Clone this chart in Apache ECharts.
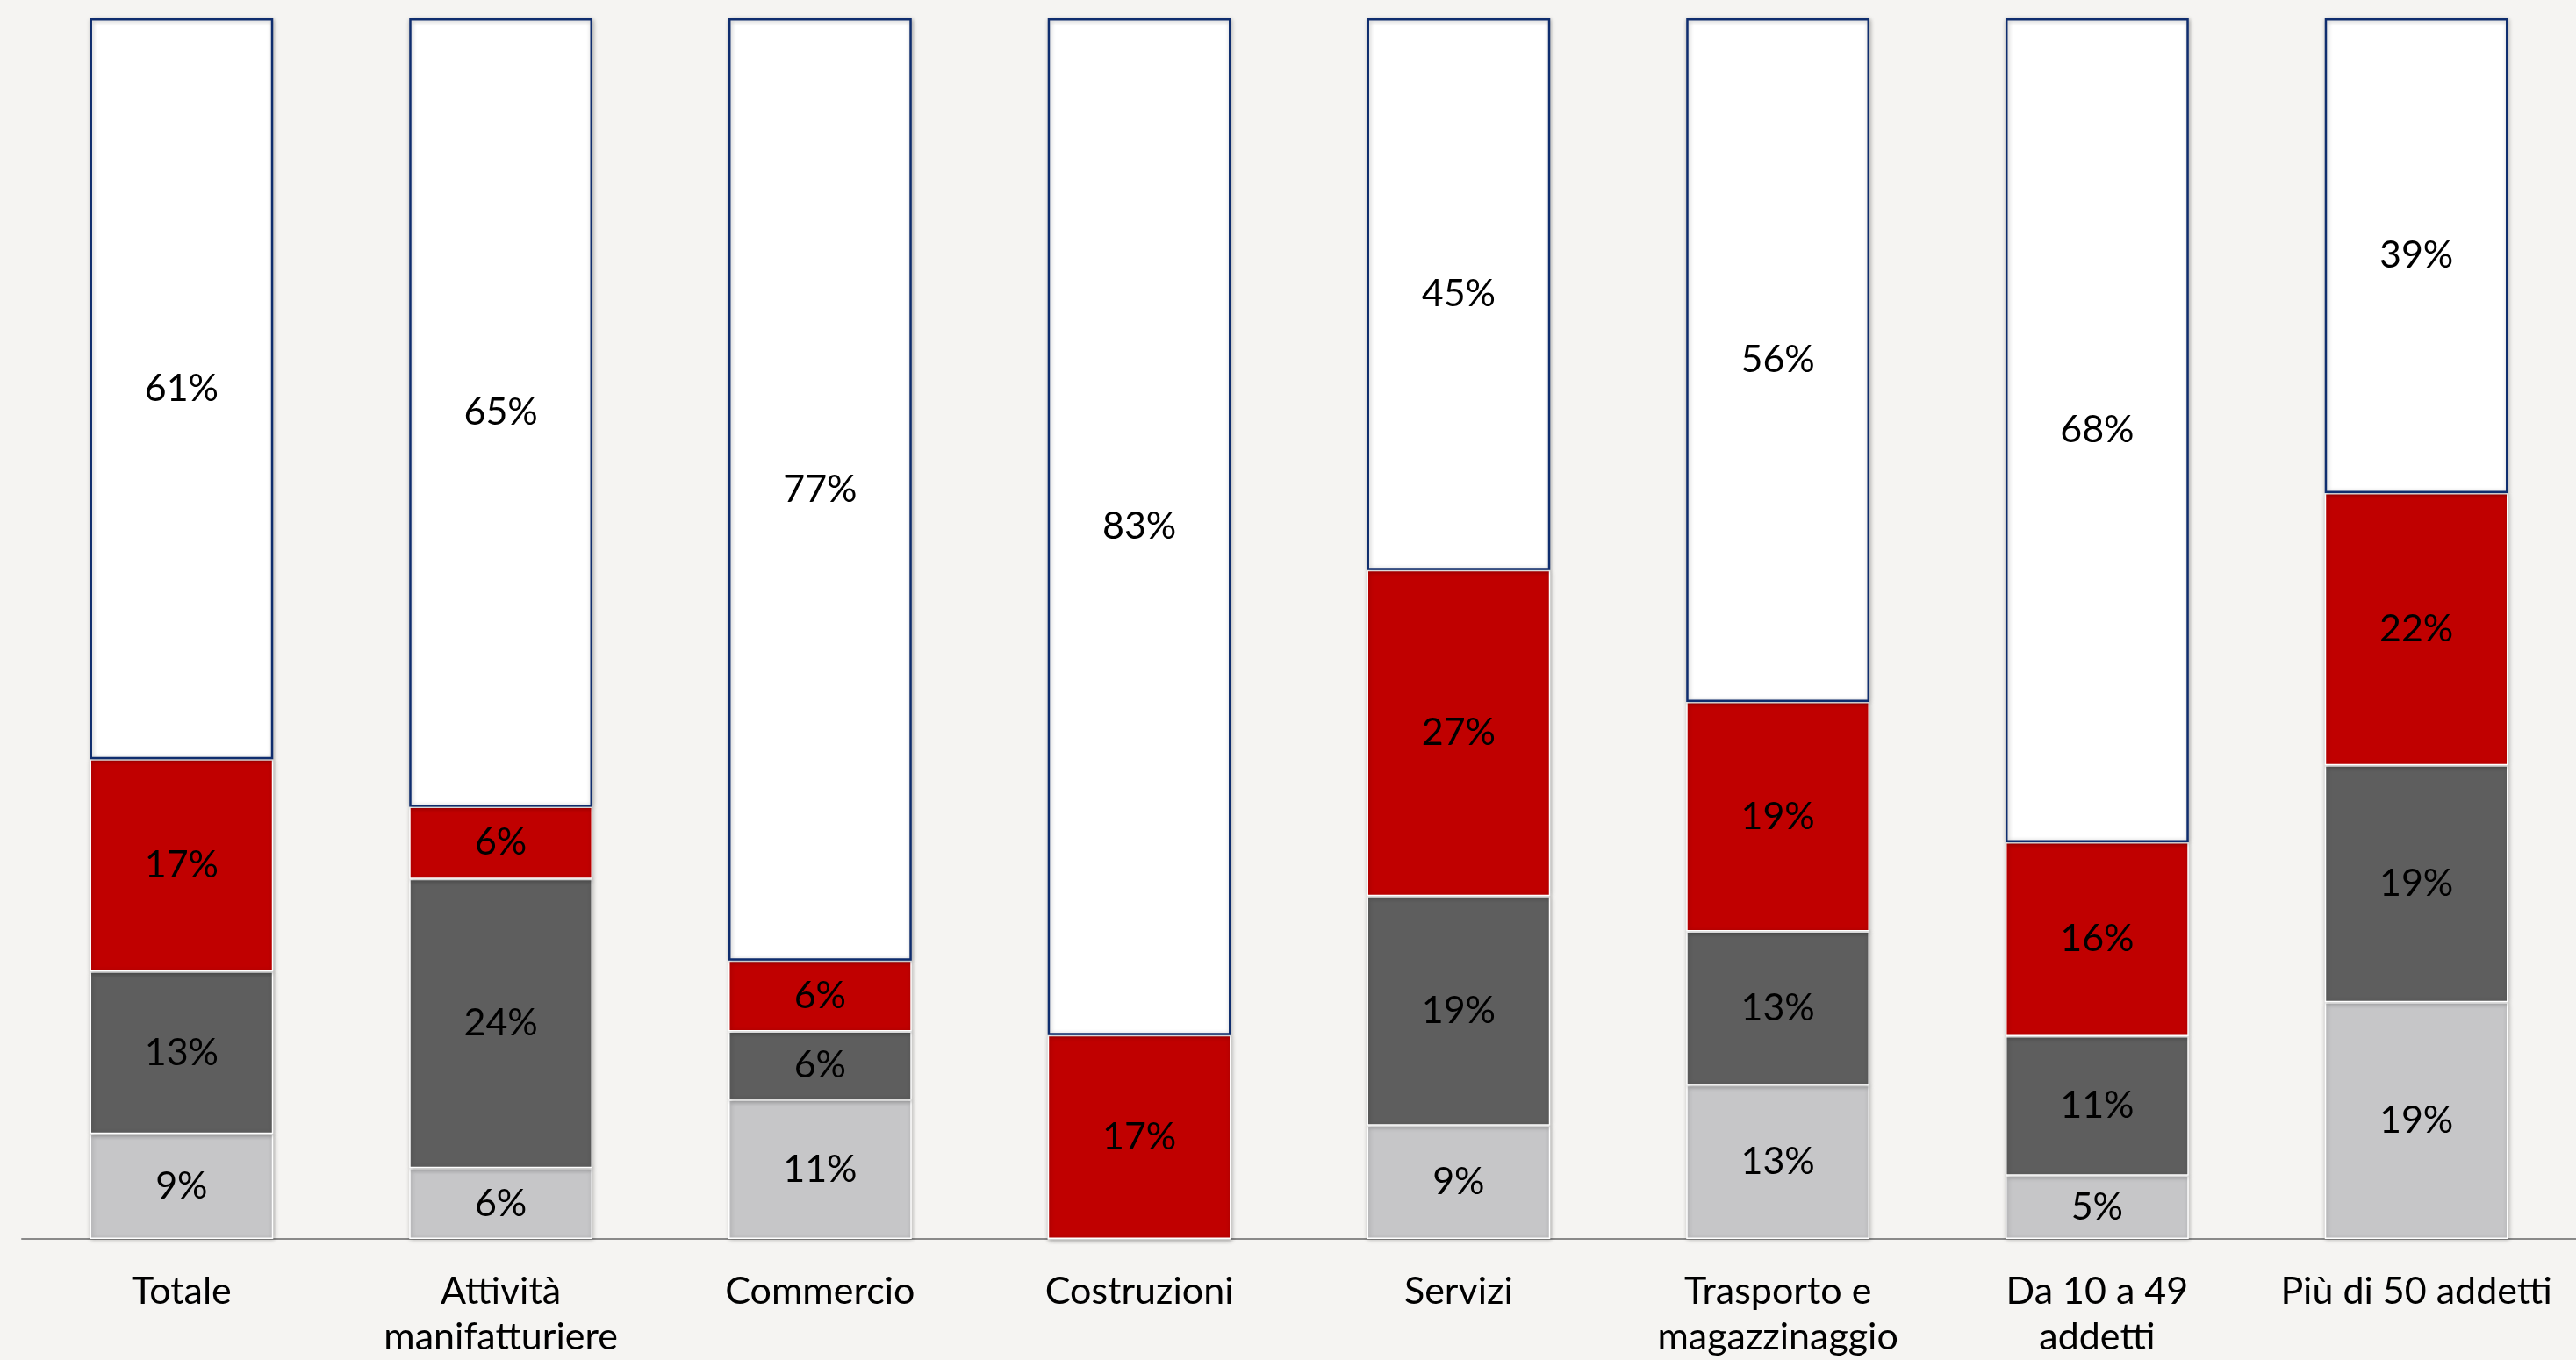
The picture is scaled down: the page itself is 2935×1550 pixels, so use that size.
<!DOCTYPE html>
<html>
<head>
<meta charset="utf-8">
<script src="https://cdn.jsdelivr.net/npm/echarts@6/dist/echarts.min.js"></script>
<style>
  html, body { margin: 0; padding: 0; background: #f5f4f2; }
  #chart { width: 2935px; height: 1550px; }
</style>
</head>
<body>
<div id="chart"></div>
<script>
// Categories on the x axis (line breaks as set in the labels)
const categories = [
  'Totale',
  'Attività\nmanifatturiere',
  'Commercio',
  'Costruzioni',
  'Servizi',
  'Trasporto e\nmagazzinaggio',
  'Da 10 a 49\naddetti',
  'Più di 50 addetti'
];

// Shares (%) per segment, from the bottom of each bar to the top
const shareLight = [8.6, 5.8, 11.4, 0, 9.3, 12.6, 5.2, 19.4];
const shareDark  = [13.3, 23.7, 5.6, 0, 18.8, 12.6, 11.4, 19.4];
const shareRed   = [17.4, 5.9, 5.8, 16.7, 26.7, 18.8, 15.9, 22.3];
const shareWhite = [60.7, 64.6, 77.2, 83.3, 45.2, 56.0, 67.5, 38.9];

const FONT = 'Lato, "Noto Sans", sans-serif';

function pctLabel(p) {
  return p.value > 0 ? Math.round(p.value) + '%' : '';
}

function segment(name, data, fill, border, borderW) {
  return {
    name: name,
    type: 'bar',
    stack: 'tot',
    data: data,
    barCategoryGap: '42.6%',
    itemStyle: {
      color: fill,
      borderColor: border,
      borderWidth: borderW,
      shadowColor: 'rgba(0,0,0,0.28)',
      shadowBlur: 5,
      shadowOffsetX: 1,
      shadowOffsetY: 1
    },
    label: {
      show: true,
      position: 'inside',
      formatter: pctLabel,
      color: '#000',
      fontFamily: FONT,
      fontSize: 43
    },
    emphasis: { disabled: true }
  };
}

const chart = echarts.init(document.getElementById('chart'));
chart.setOption({
  backgroundColor: '#f5f4f2',
  animation: false,
  grid: { left: 25, top: 21, width: 2915, bottom: 135, containLabel: false },
  xAxis: {
    type: 'category',
    data: categories,
    axisLine: { show: true, lineStyle: { color: '#8a8a8a', width: 2 } },
    axisTick: { show: false },
    axisLabel: {
      interval: 0,
      margin: 34,
      color: '#000',
      fontFamily: FONT,
      fontSize: 43,
      lineHeight: 52
    }
  },
  yAxis: {
    type: 'value',
    min: 0,
    max: 100,
    show: false,
    splitLine: { show: false }
  },
  series: [
    segment('light', shareLight, '#c6c6c8', '#ffffff', 1.5),
    segment('dark', shareDark, '#5e5e5e', '#ffffff', 1.5),
    segment('red', shareRed, '#c00000', '#ffffff', 1.5),
    segment('white', shareWhite, '#ffffff', '#0f2d6e', 2.5)
  ]
});
</script>
</body>
</html>
